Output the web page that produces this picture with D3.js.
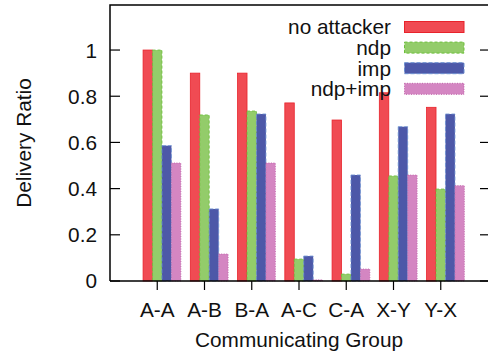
<!DOCTYPE html>
<html>
<head>
<meta charset="utf-8">
<script src="https://cdn.jsdelivr.net/npm/d3@7"></script>
<style>
  body { margin: 0; background: #fff; }
  text { font-family: "Liberation Sans", Arial, sans-serif; fill: #111; }
</style>
</head>
<body>
<svg id="chart" width="488" height="358"></svg>
<script>
const groups = ['A-A', 'A-B', 'B-A', 'A-C', 'C-A', 'X-Y', 'Y-X'];
const seriesNames = ['no attacker', 'ndp', 'imp', 'ndp+imp'];
const noAttacker = [1.0, 0.9, 0.9, 0.771, 0.697, 0.815, 0.752];
const ndp = [1.0, 0.719, 0.736, 0.095, 0.03, 0.455, 0.398];
const imp = [0.586, 0.312, 0.723, 0.108, 0.459, 0.668, 0.723];
const ndpImp = [0.511, 0.117, 0.511, 0.005, 0.052, 0.459, 0.413];
const yTicks = [0, 0.2, 0.4, 0.6, 0.8, 1];

const styles = [
    {fill: '#f04b53', stroke: '#e8232b', dash: null},
    {fill: '#93cc6a', stroke: '#6cbf3a', dash: '3,2'},
    {fill: '#4d58a8', stroke: '#6a8fd0', dash: '4,2'},
    {fill: '#d486c2', stroke: '#c060a8', dash: '1,1.5'}
];
const seriesValues = [noAttacker, ndp, imp, ndpImp];
const fontSize = '20.8px';

const svg = d3.select('#chart');
const plotLeft = 110, plotRight = 488, plotTop = 5, plotBottom = 281;

const xscale = d3.scaleLinear().domain([0, 8]).range([plotLeft, plotRight]);
const yscale = d3.scaleLinear().domain([0, 1.195]).range([plotBottom, plotTop]);

// bars
const barW = 0.2;
seriesValues.forEach((vals, s) => {
    svg.append('g').selectAll('rect')
        .data(vals)
        .join('rect')
        .attr('x', (d, i) => xscale(i + 1 - 0.3 + s * barW))
        .attr('width', xscale(barW) - xscale(0))
        .attr('y', d => yscale(d))
        .attr('height', d => plotBottom - yscale(d))
        .attr('fill', styles[s].fill)
        .attr('stroke', styles[s].stroke)
        .attr('stroke-width', 0.8)
        .attr('stroke-dasharray', styles[s].dash);
});

// frame
svg.append('path')
    .attr('d', `M${plotLeft},${plotBottom}V${plotTop}H${plotRight}M${plotLeft},${plotBottom}H${plotRight}`)
    .attr('fill', 'none')
    .attr('stroke', '#000')
    .attr('stroke-width', 1.5);

// y axis ticks (inward) and mirrored on right
const yAxisG = svg.append('g');
yTicks.forEach(t => {
    yAxisG.append('line')
        .attr('x1', plotLeft).attr('x2', plotLeft + 10)
        .attr('y1', yscale(t)).attr('y2', yscale(t))
        .attr('stroke', '#000').attr('stroke-width', 1.2);
    yAxisG.append('line')
        .attr('x1', plotRight - 8).attr('x2', plotRight)
        .attr('y1', yscale(t)).attr('y2', yscale(t))
        .attr('stroke', '#000').attr('stroke-width', 1.2);
    yAxisG.append('text')
        .attr('x', 97)
        .attr('y', yscale(t))
        .attr('dy', '0.36em')
        .attr('text-anchor', 'end')
        .style('font-size', fontSize)
        .text(d3.format('~g')(t));
});

// x axis ticks (outward)
const xAxisG = svg.append('g');
groups.forEach((g, i) => {
    xAxisG.append('line')
        .attr('x1', xscale(i + 1)).attr('x2', xscale(i + 1))
        .attr('y1', plotBottom).attr('y2', plotBottom + 9)
        .attr('stroke', '#000').attr('stroke-width', 1.2);
    xAxisG.append('text')
        .attr('x', xscale(i + 1))
        .attr('y', 317)
        .attr('text-anchor', 'middle')
        .style('font-size', fontSize)
        .text(g);
});

// axis titles
svg.append('text')
    .attr('x', 299)
    .attr('y', 347)
    .attr('text-anchor', 'middle')
    .style('font-size', fontSize)
    .text('Communicating Group');

svg.append('text')
    .attr('transform', 'translate(31, 143) rotate(-90)')
    .attr('text-anchor', 'middle')
    .style('font-size', fontSize)
    .text('Delivery Ratio');

// legend
const legend = svg.append('g');
seriesNames.forEach((name, s) => {
    const cy = 27 + s * 20.6;
    legend.append('text')
        .attr('x', 391)
        .attr('y', cy)
        .attr('dy', '0.36em')
        .attr('text-anchor', 'end')
        .style('font-size', fontSize)
        .text(name);
    legend.append('rect')
        .attr('x', 404.5).attr('y', cy - 5.5)
        .attr('width', 59.5).attr('height', 11)
        .attr('fill', styles[s].fill)
        .attr('stroke', styles[s].stroke)
        .attr('stroke-width', 1)
        .attr('stroke-dasharray', styles[s].dash);
});
</script>
</body>
</html>
